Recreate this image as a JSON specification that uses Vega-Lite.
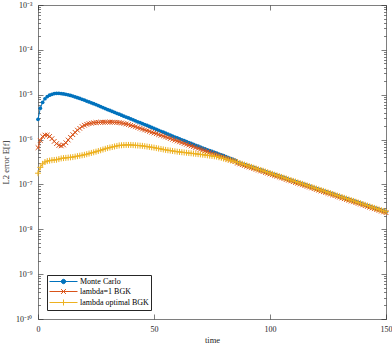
{
 "$schema": "https://vega.github.io/schema/vega-lite/v6.json",
 "width": 348, "height": 314,
 "autosize": "none",
 "padding": {"left": 38, "top": 5, "right": 6, "bottom": 25},
 "background": "white",
 "config": {"view": {"stroke": null}, "font": "Liberation Serif",
   "axis": {"grid": false, "domainColor": "#262626", "domainWidth": 0.6, "tickColor": "#262626", "tickWidth": 0.6, "labelColor": "#262626", "labelFont": "Liberation Serif", "labelFontSize": 8, "titleFont": "Liberation Serif", "titleFontSize": 8.5, "titleFontWeight": "normal", "titleColor": "#262626", "labelFlush": false, "labelOverlap": false}},
 "data": {"values": [
{"t":0,"mc":2.82e-6,"l1":6.61e-7,"lo":1.78e-7},
{"t":1,"mc":5.01e-6,"l1":9.55e-7,"lo":2.40e-7},
{"t":2,"mc":6.76e-6,"l1":1.175e-6,"lo":2.88e-7},
{"t":3,"mc":8.13e-6,"l1":1.26e-6,"lo":3.16e-7},
{"t":4,"mc":9.12e-6,"l1":1.26e-6,"lo":3.31e-7},
{"t":5,"mc":9.77e-6,"l1":1.175e-6,"lo":3.39e-7},
{"t":6,"mc":1.023e-5,"l1":1.047e-6,"lo":3.47e-7},
{"t":7,"mc":1.059e-5,"l1":9.12e-7,"lo":3.51e-7},
{"t":8,"mc":1.072e-5,"l1":8.13e-7,"lo":3.55e-7},
{"t":9,"mc":1.072e-5,"l1":7.41e-7,"lo":3.67e-7},
{"t":10,"mc":1.059e-5,"l1":7.24e-7,"lo":3.80e-7},
{"t":11,"mc":1.042e-5,"l1":7.59e-7,"lo":3.86e-7},
{"t":12,"mc":1.023e-5,"l1":8.51e-7,"lo":3.91e-7},
{"t":13,"mc":9.93e-6,"l1":9.77e-7,"lo":3.96e-7},
{"t":14,"mc":9.62e-6,"l1":1.122e-6,"lo":4.02e-7},
{"t":15,"mc":9.33e-6,"l1":1.288e-6,"lo":4.07e-7},
{"t":16,"mc":8.95e-6,"l1":1.445e-6,"lo":4.17e-7},
{"t":17,"mc":8.59e-6,"l1":1.622e-6,"lo":4.27e-7},
{"t":18,"mc":8.24e-6,"l1":1.778e-6,"lo":4.37e-7},
{"t":19,"mc":7.91e-6,"l1":1.95e-6,"lo":4.47e-7},
{"t":20,"mc":7.59e-6,"l1":2.089e-6,"lo":4.57e-7},
{"t":21,"mc":7.24e-6,"l1":2.188e-6,"lo":4.72e-7},
{"t":22,"mc":6.92e-6,"l1":2.265e-6,"lo":4.88e-7},
{"t":23,"mc":6.61e-6,"l1":2.317e-6,"lo":5.04e-7},
{"t":24,"mc":6.31e-6,"l1":2.371e-6,"lo":5.20e-7},
{"t":25,"mc":6.03e-6,"l1":2.399e-6,"lo":5.37e-7},
{"t":26,"mc":5.73e-6,"l1":2.415e-6,"lo":5.57e-7},
{"t":27,"mc":5.45e-6,"l1":2.427e-6,"lo":5.78e-7},
{"t":28,"mc":5.18e-6,"l1":2.438e-6,"lo":6.00e-7},
{"t":29,"mc":4.92e-6,"l1":2.443e-6,"lo":6.22e-7},
{"t":30,"mc":4.68e-6,"l1":2.449e-6,"lo":6.46e-7},
{"t":31,"mc":4.46e-6,"l1":2.449e-6,"lo":6.64e-7},
{"t":32,"mc":4.25e-6,"l1":2.443e-6,"lo":6.82e-7},
{"t":33,"mc":4.05e-6,"l1":2.432e-6,"lo":7.02e-7},
{"t":34,"mc":3.85e-6,"l1":2.415e-6,"lo":7.21e-7},
{"t":35,"mc":3.67e-6,"l1":2.399e-6,"lo":7.41e-7},
{"t":36,"mc":3.50e-6,"l1":2.344e-6,"lo":7.46e-7},
{"t":37,"mc":3.33e-6,"l1":2.286e-6,"lo":7.53e-7},
{"t":38,"mc":3.18e-6,"l1":2.223e-6,"lo":7.59e-7},
{"t":39,"mc":3.03e-6,"l1":2.158e-6,"lo":7.59e-7},
{"t":40,"mc":2.88e-6,"l1":2.089e-6,"lo":7.59e-7},
{"t":41,"mc":2.75e-6,"l1":2.009e-6,"lo":7.52e-7},
{"t":42,"mc":2.62e-6,"l1":1.928e-6,"lo":7.45e-7},
{"t":43,"mc":2.49e-6,"l1":1.854e-6,"lo":7.38e-7},
{"t":44,"mc":2.38e-6,"l1":1.782e-6,"lo":7.31e-7},
{"t":45,"mc":2.26e-6,"l1":1.710e-6,"lo":7.24e-7},
{"t":46,"mc":2.16e-6,"l1":1.644e-6,"lo":7.11e-7},
{"t":47,"mc":2.06e-6,"l1":1.581e-6,"lo":6.98e-7},
{"t":48,"mc":1.96e-6,"l1":1.521e-6,"lo":6.86e-7},
{"t":49,"mc":1.87e-6,"l1":1.459e-6,"lo":6.73e-7},
{"t":50,"mc":1.78e-6,"l1":1.403e-6,"lo":6.61e-7},
{"t":51,"mc":1.69e-6,"l1":1.349e-6,"lo":6.46e-7},
{"t":52,"mc":1.61e-6,"l1":1.294e-6,"lo":6.31e-7},
{"t":53,"mc":1.53e-6,"l1":1.245e-6,"lo":6.17e-7},
{"t":54,"mc":1.46e-6,"l1":1.197e-6,"lo":6.03e-7},
{"t":55,"mc":1.39e-6,"l1":1.148e-6,"lo":5.89e-7},
{"t":56,"mc":1.32e-6,"l1":1.102e-6,"lo":5.78e-7},
{"t":57,"mc":1.26e-6,"l1":1.054e-6,"lo":5.68e-7},
{"t":58,"mc":1.20e-6,"l1":1.012e-6,"lo":5.57e-7},
{"t":59,"mc":1.14e-6,"l1":9.70e-7,"lo":5.47e-7},
{"t":60,"mc":1.09e-6,"l1":9.29e-7,"lo":5.37e-7},
{"t":61,"mc":1.04e-6,"l1":8.91e-7,"lo":5.30e-7},
{"t":62,"mc":9.91e-7,"l1":8.55e-7,"lo":5.22e-7},
{"t":63,"mc":9.44e-7,"l1":8.18e-7,"lo":5.15e-7},
{"t":64,"mc":9.02e-7,"l1":7.85e-7,"lo":5.08e-7},
{"t":65,"mc":8.59e-7,"l1":7.53e-7,"lo":5.01e-7},
{"t":66,"mc":8.18e-7,"l1":7.21e-7,"lo":4.94e-7},
{"t":67,"mc":7.80e-7,"l1":6.92e-7,"lo":4.88e-7},
{"t":68,"mc":7.45e-7,"l1":6.64e-7,"lo":4.81e-7},
{"t":69,"mc":7.10e-7,"l1":6.35e-7,"lo":4.74e-7},
{"t":70,"mc":6.76e-7,"l1":6.10e-7,"lo":4.68e-7},
{"t":71,"mc":6.47e-7,"l1":5.85e-7,"lo":4.60e-7},
{"t":72,"mc":6.19e-7,"l1":5.60e-7,"lo":4.53e-7},
{"t":73,"mc":5.93e-7,"l1":5.37e-7,"lo":4.46e-7},
{"t":74,"mc":5.68e-7,"l1":5.15e-7,"lo":4.38e-7},
{"t":75,"mc":5.43e-7,"l1":4.93e-7,"lo":4.31e-7},
{"t":76,"mc":5.20e-7,"l1":4.73e-7,"lo":4.24e-7},
{"t":77,"mc":4.98e-7,"l1":4.54e-7,"lo":4.17e-7},
{"t":78,"mc":4.76e-7,"l1":4.35e-7,"lo":4.04e-7},
{"t":79,"mc":4.56e-7,"l1":4.17e-7,"lo":3.91e-7},
{"t":80,"mc":4.37e-7,"l1":4.00e-7,"lo":3.78e-7},
{"t":81,"mc":4.16e-7,"l1":3.83e-7,"lo":3.66e-7},
{"t":82,"mc":3.96e-7,"l1":3.67e-7,"lo":3.55e-7},
{"t":83,"mc":3.78e-7,"l1":3.52e-7,"lo":3.44e-7},
{"t":84,"mc":3.60e-7,"l1":3.37e-7,"lo":3.33e-7},
{"t":85,"mc":3.43e-7,"l1":3.24e-7,"lo":3.22e-7},
{"t":86,"mc":3.12e-7,"l1":2.98e-7,"lo":3.12e-7},
{"t":87,"mc":3.00e-7,"l1":2.86e-7,"lo":3.00e-7},
{"t":88,"mc":2.88e-7,"l1":2.75e-7,"lo":2.88e-7},
{"t":89,"mc":2.77e-7,"l1":2.65e-7,"lo":2.77e-7},
{"t":90,"mc":2.66e-7,"l1":2.54e-7,"lo":2.66e-7},
{"t":91,"mc":2.56e-7,"l1":2.44e-7,"lo":2.56e-7},
{"t":92,"mc":2.46e-7,"l1":2.35e-7,"lo":2.46e-7},
{"t":93,"mc":2.36e-7,"l1":2.26e-7,"lo":2.36e-7},
{"t":94,"mc":2.27e-7,"l1":2.17e-7,"lo":2.27e-7},
{"t":95,"mc":2.18e-7,"l1":2.08e-7,"lo":2.18e-7},
{"t":96,"mc":2.10e-7,"l1":2.00e-7,"lo":2.10e-7},
{"t":97,"mc":2.02e-7,"l1":1.93e-7,"lo":2.02e-7},
{"t":98,"mc":1.94e-7,"l1":1.85e-7,"lo":1.94e-7},
{"t":99,"mc":1.86e-7,"l1":1.78e-7,"lo":1.86e-7},
{"t":100,"mc":1.79e-7,"l1":1.71e-7,"lo":1.79e-7},
{"t":101,"mc":1.72e-7,"l1":1.64e-7,"lo":1.72e-7},
{"t":102,"mc":1.65e-7,"l1":1.58e-7,"lo":1.65e-7},
{"t":103,"mc":1.59e-7,"l1":1.52e-7,"lo":1.59e-7},
{"t":104,"mc":1.53e-7,"l1":1.46e-7,"lo":1.53e-7},
{"t":105,"mc":1.47e-7,"l1":1.40e-7,"lo":1.47e-7},
{"t":106,"mc":1.41e-7,"l1":1.35e-7,"lo":1.41e-7},
{"t":107,"mc":1.36e-7,"l1":1.29e-7,"lo":1.36e-7},
{"t":108,"mc":1.30e-7,"l1":1.24e-7,"lo":1.30e-7},
{"t":109,"mc":1.25e-7,"l1":1.20e-7,"lo":1.25e-7},
{"t":110,"mc":1.20e-7,"l1":1.15e-7,"lo":1.20e-7},
{"t":111,"mc":1.16e-7,"l1":1.10e-7,"lo":1.16e-7},
{"t":112,"mc":1.11e-7,"l1":1.06e-7,"lo":1.11e-7},
{"t":113,"mc":1.07e-7,"l1":1.02e-7,"lo":1.07e-7},
{"t":114,"mc":1.03e-7,"l1":9.81e-8,"lo":1.03e-7},
{"t":115,"mc":9.87e-8,"l1":9.43e-8,"lo":9.87e-8},
{"t":116,"mc":9.49e-8,"l1":9.06e-8,"lo":9.49e-8},
{"t":117,"mc":9.12e-8,"l1":8.71e-8,"lo":9.12e-8},
{"t":118,"mc":8.76e-8,"l1":8.37e-8,"lo":8.76e-8},
{"t":119,"mc":8.42e-8,"l1":8.04e-8,"lo":8.42e-8},
{"t":120,"mc":8.09e-8,"l1":7.73e-8,"lo":8.09e-8},
{"t":121,"mc":7.78e-8,"l1":7.43e-8,"lo":7.78e-8},
{"t":122,"mc":7.48e-8,"l1":7.14e-8,"lo":7.48e-8},
{"t":123,"mc":7.19e-8,"l1":6.87e-8,"lo":7.19e-8},
{"t":124,"mc":6.91e-8,"l1":6.60e-8,"lo":6.91e-8},
{"t":125,"mc":6.64e-8,"l1":6.34e-8,"lo":6.64e-8},
{"t":126,"mc":6.38e-8,"l1":6.09e-8,"lo":6.38e-8},
{"t":127,"mc":6.13e-8,"l1":5.85e-8,"lo":6.13e-8},
{"t":128,"mc":5.89e-8,"l1":5.62e-8,"lo":5.89e-8},
{"t":129,"mc":5.66e-8,"l1":5.41e-8,"lo":5.66e-8},
{"t":130,"mc":5.44e-8,"l1":5.20e-8,"lo":5.44e-8},
{"t":131,"mc":5.23e-8,"l1":4.99e-8,"lo":5.23e-8},
{"t":132,"mc":5.03e-8,"l1":4.80e-8,"lo":5.03e-8},
{"t":133,"mc":4.83e-8,"l1":4.61e-8,"lo":4.83e-8},
{"t":134,"mc":4.64e-8,"l1":4.43e-8,"lo":4.64e-8},
{"t":135,"mc":4.46e-8,"l1":4.26e-8,"lo":4.46e-8},
{"t":136,"mc":4.29e-8,"l1":4.10e-8,"lo":4.29e-8},
{"t":137,"mc":4.12e-8,"l1":3.93e-8,"lo":4.12e-8},
{"t":138,"mc":3.96e-8,"l1":3.78e-8,"lo":3.96e-8},
{"t":139,"mc":3.81e-8,"l1":3.64e-8,"lo":3.81e-8},
{"t":140,"mc":3.66e-8,"l1":3.50e-8,"lo":3.66e-8},
{"t":141,"mc":3.52e-8,"l1":3.36e-8,"lo":3.52e-8},
{"t":142,"mc":3.38e-8,"l1":3.23e-8,"lo":3.38e-8},
{"t":143,"mc":3.25e-8,"l1":3.10e-8,"lo":3.25e-8},
{"t":144,"mc":3.12e-8,"l1":2.98e-8,"lo":3.12e-8},
{"t":145,"mc":3.00e-8,"l1":2.87e-8,"lo":3.00e-8},
{"t":146,"mc":2.88e-8,"l1":2.75e-8,"lo":2.88e-8},
{"t":147,"mc":2.77e-8,"l1":2.65e-8,"lo":2.77e-8},
{"t":148,"mc":2.66e-8,"l1":2.54e-8,"lo":2.66e-8},
{"t":149,"mc":2.56e-8,"l1":2.44e-8,"lo":2.56e-8},
{"t":150,"mc":2.46e-8,"l1":2.35e-8,"lo":2.46e-8}
 ]},
 "transform": [{"fold": ["mc", "l1", "lo"], "as": ["series", "value"]}],
 "layer": [
  {"mark": {"type": "line", "strokeWidth": 1},
   "encoding": {
     "x": {"field": "t", "type": "quantitative", "scale": {"domain": [0, 150], "nice": false},
           "axis": {"orient": "bottom", "values": [0, 50, 100, 150], "tickSize": -5, "labelPadding": 11, "title": "time", "titlePadding": 2}},
     "y": {"field": "value", "type": "quantitative", "scale": {"type": "log", "domain": [1e-10, 1e-3], "nice": false},
           "axis": {"orient": "left", "tickCount": 70,
                    "tickSize": {"condition": {"test": "abs(log(datum.value)/LN10 - round(log(datum.value)/LN10)) < 0.01", "value": -5}, "value": -2.5},
                    "labelPadding": 11,
                    "labelExpr": "abs(log(datum.value)/LN10 - round(log(datum.value)/LN10)) > 0.01 ? '' : '10' + ['⁻¹⁰','⁻⁹','⁻⁸','⁻⁷','⁻⁶','⁻⁵','⁻⁴','⁻³'][round(log(datum.value)/LN10)+10]",
                    "title": "L2 error E[f]", "titlePadding": 5}},
     "color": {"field": "series", "type": "nominal",
               "scale": {"domain": ["mc", "l1", "lo"], "range": ["#0072BD", "#D95319", "#EDB120"]},
               "legend": {"orient": "bottom-left", "offset": 9, "title": null, "padding": 2, "rowPadding": 1,
                          "symbolSize": 64, "symbolOffset": 10, "labelOffset": 12, "symbolStrokeWidth": 1,
                          "labelFont": "Liberation Serif", "labelFontSize": 8, "labelColor": "#000",
                          "strokeColor": "#262626", "fillColor": "white",
                          "labelExpr": "datum.label === 'mc' ? 'Monte Carlo' : datum.label === 'l1' ? 'lambda=1 BGK' : 'lambda optimal BGK'",
                          "encode": {"symbols": {"update": {
                            "shape": {"signal": "datum.value === 'mc' ? 'M-3.5,0L3.5,0M-0.55,0A0.55,0.55,0,1,1,0.55,0A0.55,0.55,0,1,1,-0.55,0Z' : datum.value === 'l1' ? 'M-3.5,0L3.5,0M-0.6,-0.6L0.6,0.6M-0.6,0.6L0.6,-0.6' : 'M-3.5,0L3.5,0M-0.75,0L0.75,0M0,-0.75L0,0.75'"},
                            "fill": {"signal": "datum.value === 'mc' ? '#0072BD' : 'transparent'"}}}}}}
   }},
  {"transform": [{"filter": "datum.series === 'mc'"}],
   "mark": {"type": "point", "shape": "circle", "filled": true, "size": 14, "color": "#0072BD", "opacity": 1},
   "encoding": {"x": {"field": "t", "type": "quantitative", "axis": null}, "y": {"field": "value", "type": "quantitative", "axis": null}}},
  {"transform": [{"filter": "datum.series === 'l1'"}],
   "mark": {"type": "point", "shape": "M-1,-1L1,1M-1,1L1,-1", "filled": false, "size": 22, "strokeWidth": 1, "color": "#D95319", "opacity": 1},
   "encoding": {"x": {"field": "t", "type": "quantitative", "axis": null}, "y": {"field": "value", "type": "quantitative", "axis": null}}},
  {"transform": [{"filter": "datum.series === 'lo'"}],
   "mark": {"type": "point", "shape": "M-1,0L1,0M0,-1L0,1", "filled": false, "size": 36, "strokeWidth": 1, "color": "#EDB120", "opacity": 1},
   "encoding": {
     "x": {"field": "t", "type": "quantitative", "axis": {"orient": "top", "values": [0, 50, 100, 150], "tickSize": -5, "labels": false, "title": null}},
     "y": {"field": "value", "type": "quantitative", "axis": {"orient": "right", "tickCount": 70, "labels": false, "title": null,
           "tickSize": {"condition": {"test": "abs(log(datum.value)/LN10 - round(log(datum.value)/LN10)) < 0.01", "value": -5}, "value": -2.5}}}}}
 ],
 "resolve": {"axis": {"x": "independent", "y": "independent"}}
}
